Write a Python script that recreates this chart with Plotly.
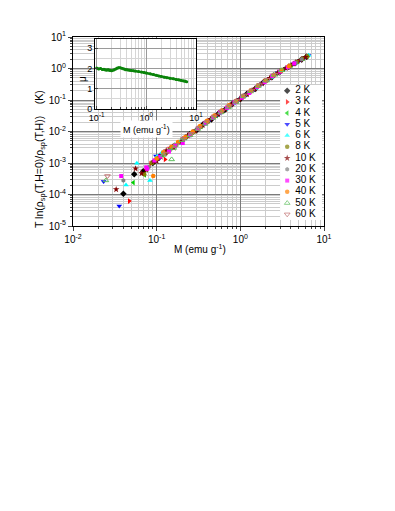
import plotly.graph_objects as go

# ---- data ---------------------------------------------------------------
temps = ["2 K", "3 K", "4 K", "5 K", "6 K", "8 K", "10 K", "20 K", "30 K", "40 K", "50 K", "60 K"]

m_2k = [0.040, 0.054, 0.069, 0.09, 0.11, 0.13, 0.16, 0.2, 0.25, 0.3, 0.36, 0.45, 0.55, 0.65, 0.8, 1.0, 1.2, 1.5, 1.9, 2.4, 3.0, 3.8, 4.6, 5.4, 6.2]
y_2k = [1.05e-4, 4.4e-4, 5.5e-4, 1.0e-3, 1.7e-3, 2.1e-3, 3.4e-3, 5.0e-3, 8.4e-3, 1.1e-2, 1.7e-2, 2.4e-2, 3.7e-2, 4.8e-2, 7.4e-2, 0.108, 0.157, 0.225, 0.37, 0.54, 0.80, 1.13, 1.52, 1.93, 2.38]

m_3k = [0.047, 0.126, 0.085, 0.105, 0.14, 0.17, 0.21, 0.26, 0.32, 0.39, 0.47, 0.57, 0.68, 0.83, 1.02, 1.25, 1.55, 1.95, 2.45, 3.1, 3.9, 4.7, 5.5, 6.3]
y_3k = [6.2e-5, 1.3e-3, 9.5e-4, 1.5e-3, 2.7e-3, 3.6e-3, 5.8e-3, 8.3e-3, 1.3e-2, 1.95e-2, 2.8e-2, 3.9e-2, 5.5e-2, 7.6e-2, 0.114, 0.165, 0.24, 0.375, 0.56, 0.84, 1.18, 1.56, 1.97, 2.42]

m_4k = [0.0527, 0.072, 0.095, 0.118, 0.145, 0.175, 0.22, 0.27, 0.34, 0.42, 0.52, 0.62, 0.75, 0.92, 1.12, 1.38, 1.72, 2.15, 2.7, 3.3, 4.1, 4.9, 5.7, 6.4]
y_4k = [2.4e-4, 4.2e-4, 1.2e-3, 1.8e-3, 2.8e-3, 4.0e-3, 6.4e-3, 9.5e-3, 1.45e-2, 2.2e-2, 3.2e-2, 4.5e-2, 6.5e-2, 9.5e-2, 0.137, 0.2, 0.3, 0.44, 0.68, 0.95, 1.3, 1.7, 2.13, 2.5]

m_5k = [0.0232, 0.0357, 0.098, 0.108, 0.124, 0.15, 0.19, 0.23, 0.29, 0.35, 0.43, 0.53, 0.64, 0.78, 0.96, 1.17, 1.45, 1.8, 2.25, 2.8, 3.5, 4.3, 5.1, 5.9, 6.5]
y_5k = [2.6e-4, 4.3e-5, 1.66e-3, 1.4e-3, 2.1e-3, 3.1e-3, 4.5e-3, 6.6e-3, 1.05e-2, 1.5e-2, 2.3e-2, 3.4e-2, 4.8e-2, 7.0e-2, 0.104, 0.146, 0.215, 0.325, 0.49, 0.73, 1.01, 1.39, 1.79, 2.22, 2.57]

m_6k = [0.043, 0.058, 0.083, 0.101, 0.115, 0.135, 0.165, 0.2, 0.24, 0.3, 0.37, 0.46, 0.56, 0.67, 0.82, 1.0, 1.22, 1.52, 1.88, 2.35, 2.95, 3.7, 4.5, 5.3, 6.1, 6.55]
y_6k = [2.0e-4, 9.8e-4, 2.8e-4, 1.6e-3, 2.1e-3, 2.3e-3, 3.9e-3, 5.5e-3, 7.2e-3, 1.2e-2, 1.7e-2, 2.6e-2, 3.8e-2, 5.1e-2, 7.5e-2, 0.115, 0.16, 0.23, 0.35, 0.52, 0.79, 1.11, 1.48, 1.9, 2.35, 2.62]

m_8k = [0.071, 0.088, 0.105, 0.125, 0.155, 0.185, 0.225, 0.28, 0.34, 0.41, 0.5, 0.61, 0.74, 0.9, 1.1, 1.35, 1.65, 2.05, 2.55, 3.2, 4.0, 4.8, 5.6, 6.3]
y_8k = [4.4e-4, 1.0e-3, 1.45e-3, 2.0e-3, 3.1e-3, 4.6e-3, 6.6e-3, 9.8e-3, 1.45e-2, 2.05e-2, 3.1e-2, 4.3e-2, 6.2e-2, 8.8e-2, 0.13, 0.19, 0.28, 0.41, 0.62, 0.9, 1.25, 1.64, 2.06, 2.44]

m_10k = [0.0328, 0.056, 0.066, 0.075, 0.092, 0.10, 0.112, 0.13, 0.16, 0.195, 0.235, 0.29, 0.355, 0.44, 0.54, 0.66, 0.8, 0.98, 1.2, 1.48, 1.82, 2.25, 2.8, 3.5, 4.3, 5.2, 6.0]
y_10k = [1.45e-4, 6.6e-4, 4.7e-4, 6.0e-4, 1.1e-3, 1.15e-3, 1.55e-3, 2.5e-3, 3.0e-3, 4.9e-3, 7.4e-3, 1.05e-2, 1.6e-2, 2.5e-2, 3.5e-2, 5.0e-2, 7.5e-2, 0.105, 0.15, 0.225, 0.33, 0.5, 0.73, 1.02, 1.4, 1.86, 2.3]

m_20k = [0.040, 0.081, 0.097, 0.12, 0.142, 0.17, 0.21, 0.26, 0.32, 0.39, 0.48, 0.58, 0.71, 0.87, 1.06, 1.3, 1.6, 1.98, 2.45, 3.05, 3.8, 4.6, 5.4]
y_20k = [2.8e-4, 7.5e-4, 1.25e-3, 2.0e-3, 2.5e-3, 3.6e-3, 5.7e-3, 8.8e-3, 1.3e-2, 1.9e-2, 2.9e-2, 4.2e-2, 5.9e-2, 8.5e-2, 0.122, 0.178, 0.26, 0.39, 0.56, 0.82, 1.14, 1.53, 1.95]

m_30k = [0.0377, 0.075, 0.077, 0.094, 0.11, 0.14, 0.165, 0.205, 0.25, 0.31, 0.38, 0.47, 0.57, 0.69, 0.85, 1.04, 1.28, 1.58, 1.95, 2.4, 3.0, 3.7, 4.4]
y_30k = [3.85e-4, 7.3e-4, 6.5e-4, 1.2e-3, 1.6e-3, 2.3e-3, 3.5e-3, 4.3e-3, 7.6e-3, 1.2e-2, 1.8e-2, 2.7e-2, 4.0e-2, 5.6e-2, 8.3e-2, 0.117, 0.168, 0.26, 0.37, 0.58, 0.8, 1.1, 1.45]

m_40k = [0.091, 0.10, 0.12, 0.15, 0.18, 0.22, 0.27, 0.33, 0.4, 0.49, 0.6, 0.73, 0.89, 1.08, 1.33, 1.63, 2.0, 2.5, 3.1, 3.8]
y_40k = [3.85e-4, 1.4e-3, 2.2e-3, 3.3e-3, 4.6e-3, 6.7e-3, 1.0e-2, 1.5e-2, 2.2e-2, 3.2e-2, 4.6e-2, 6.8e-2, 0.095, 0.135, 0.2, 0.29, 0.42, 0.62, 0.87, 1.18]

m_50k = [0.0247, 0.151, 0.12, 0.16, 0.2, 0.25, 0.31, 0.38, 0.47, 0.58, 0.72, 0.88, 1.08, 1.32, 1.62, 2.0, 2.5, 3.1]
y_50k = [2.8e-4, 1.3e-3, 1.8e-3, 3.0e-3, 5.3e-3, 7.6e-3, 1.2e-2, 1.75e-2, 2.7e-2, 4.0e-2, 6.0e-2, 8.7e-2, 0.13, 0.19, 0.28, 0.41, 0.63, 0.88]

m_60k = [0.0258, 0.13, 0.17, 0.21, 0.26, 0.32, 0.4, 0.49, 0.6, 0.74, 0.91, 1.12, 1.38, 1.7, 2.1, 2.6]
y_60k = [3.85e-4, 2.0e-3, 3.8e-3, 5.9e-3, 8.5e-3, 1.3e-2, 2.0e-2, 3.0e-2, 4.4e-2, 6.4e-2, 9.4e-2, 0.14, 0.2, 0.3, 0.44, 0.64]

# inset: exponent mu vs M
m_inset = [0.10, 0.11, 0.12, 0.13, 0.14, 0.15, 0.16, 0.17, 0.18, 0.19, 0.20, 0.22, 0.24, 0.26, 0.28, 0.30,
           0.32, 0.35, 0.38, 0.42, 0.46, 0.50, 0.55, 0.60, 0.70, 0.80, 0.90, 1.0, 1.2, 1.4, 1.6, 1.8,
           2.0, 2.3, 2.6, 3.0, 3.5, 4.0, 4.5, 5.0, 5.5, 6.0, 6.5]
mu_inset = [2.02, 1.98, 2.00, 1.95, 1.96, 1.93, 1.92, 1.94, 1.91, 1.90, 1.89, 1.92, 1.97, 2.02, 2.04, 2.03,
            2.01, 1.97, 1.94, 1.92, 1.91, 1.90, 1.89, 1.88, 1.85, 1.82, 1.80, 1.78, 1.74, 1.70, 1.66, 1.63,
            1.61, 1.57, 1.54, 1.52, 1.49, 1.46, 1.44, 1.42, 1.40, 1.38, 1.34]

series_m = [m_2k, m_3k, m_4k, m_5k, m_6k, m_8k, m_10k, m_20k, m_30k, m_40k, m_50k, m_60k]
series_y = [y_2k, y_3k, y_4k, y_5k, y_6k, y_8k, y_10k, y_20k, y_30k, y_40k, y_50k, y_60k]

# ---- styles --------------------------------------------------------------
colors = ["#000000", "#FF0000", "#00D000", "#0000FF", "#00FFFF", "#808000",
          "#800000", "#808080", "#FF00FF", "#FF8000", "#5FBF5F", "#C07070"]
symbols = ["diamond", "triangle-right", "triangle-left", "triangle-down", "triangle-up", "circle",
           "star", "hexagon", "square", "circle", "triangle-up-open", "triangle-down-open"]
sizes = [5, 5, 5, 5, 5, 4.5, 5, 4.5, 4, 4.5, 5, 5]

FONT = "Liberation Sans, Arial, sans-serif"


def sup_label(e):
    return "10<sup>%d</sup>" % e


fig = go.Figure()

for m, y, name, col, sym, sz in zip(series_m, series_y, temps, colors, symbols, sizes):
    fig.add_trace(go.Scatter(
        x=m, y=y, mode="markers", name=name, xaxis="x", yaxis="y",
        marker=dict(color=col, symbol=sym, size=sz,
                    line=dict(width=1 if sym.endswith("open") else 0, color=col)),
        showlegend=False,
    ))

# inset curve
fig.add_trace(go.Scatter(
    x=m_inset, y=mu_inset, mode="lines+markers", xaxis="x2", yaxis="y2",
    line=dict(color="#0A840A", width=2.5), marker=dict(color="#0A840A", size=3),
    showlegend=False,
))

# hand-made legend (plotly's own legend rows are too tall for this spacing)
rows = list(range(len(temps)))
fig.add_trace(go.Scatter(
    x=[0.17] * len(temps), y=rows, mode="markers", xaxis="x3", yaxis="y3",
    marker=dict(color=colors, symbol=symbols, size=sizes,
                line=dict(width=[1 if s.endswith("open") else 0 for s in symbols], color=colors)),
    showlegend=False, hoverinfo="skip",
))
fig.add_trace(go.Scatter(
    x=[0.36] * len(temps), y=rows, mode="text", text=temps, textposition="middle right",
    textfont=dict(family=FONT, size=10, color="black"), xaxis="x3", yaxis="y3",
    showlegend=False, hoverinfo="skip",
))

major_x = [-2, -1, 0, 1]
major_y = [-5, -4, -3, -2, -1, 0, 1]
minor_x = [k * 10.0 ** e for e in range(-2, 1) for k in range(2, 10)]
minor_y = [k * 10.0 ** e for e in range(-5, 1) for k in range(2, 10)]

axis_common = dict(showline=True, linecolor="black", linewidth=1, mirror=True, zeroline=False,
                   automargin=False, tickfont=dict(family=FONT, size=10, color="black"))
inset_font = dict(family=FONT, size=9, color="black")

# the page body adds an 8 px offset, so the figure is 8 px smaller and margins shifted
fig.update_layout(
    width=387, height=503,
    margin=dict(l=65, r=71, t=29, b=285),
    paper_bgcolor="white", plot_bgcolor="white",
    font=dict(family=FONT, size=10, color="black"),
    showlegend=False,
    xaxis=dict(type="log", range=[-2, 1], domain=[0, 1], anchor="y",
               tickvals=[10.0 ** e for e in major_x], ticktext=[sup_label(e) for e in major_x],
               ticks="outside", ticklen=4, showgrid=True, gridcolor="#7a7a7a", gridwidth=1,
               minor=dict(tickmode="array", tickvals=minor_x, ticks="outside", ticklen=2,
                          showgrid=True, gridcolor="#cccccc", gridwidth=1),
               **axis_common),
    yaxis=dict(type="log", range=[-5, 1], domain=[0, 1], anchor="x",
               tickvals=[10.0 ** e for e in major_y], ticktext=[sup_label(e) for e in major_y],
               ticks="outside", ticklen=4, showgrid=True, gridcolor="#7a7a7a", gridwidth=1,
               minor=dict(tickmode="array", tickvals=minor_y, ticks="outside", ticklen=2,
                          showgrid=True, gridcolor="#cccccc", gridwidth=1),
               **axis_common),
    xaxis2=dict(type="log", range=[-1.034, 1.0], domain=[0.0876, 0.490], anchor="y2",
                tickvals=[0.1, 1, 10], ticktext=[sup_label(e) for e in [-1, 0, 1]],
                ticks="inside", ticklen=3, showgrid=True, gridcolor="#9a9a9a",
                minor=dict(tickmode="array", tickvals=minor_x, ticks="inside", ticklen=2,
                           showgrid=True, gridcolor="#d6d6d6"),
                **{**axis_common, "tickfont": inset_font}),
    yaxis2=dict(range=[0, 3.45], domain=[0.619, 0.989], anchor="x2",
                tickvals=[0, 1, 2, 3], ticks="inside", ticklen=3,
                showgrid=True, gridcolor="#9a9a9a",
                minor=dict(dtick=0.5, showgrid=True, gridcolor="#d6d6d6"),
                **{**axis_common, "tickfont": inset_font}),
    xaxis3=dict(range=[0, 1], domain=[0.825, 0.992], anchor="y3", visible=False, fixedrange=True),
    yaxis3=dict(range=[11.5, -0.5], domain=[0.032, 0.746], anchor="x3", visible=False, fixedrange=True),
    annotations=[
        dict(text="T ln(ρ<sub>sp</sub>(T,H=0)/ρ<sub>sp</sub>(T,H))    (K)", textangle=-90,
             xref="paper", yref="paper", x=-0.131, y=0.355, xanchor="center", yanchor="middle",
             showarrow=False, font=dict(family=FONT, size=10.5)),
        dict(text="M (emu g<sup>-1</sup>)", xref="paper", yref="paper", x=0.505, y=-0.122,
             xanchor="center", yanchor="middle", showarrow=False, font=dict(family=FONT, size=10)),
        dict(text="M (emu g<sup>-1</sup>)", xref="paper", yref="paper", x=0.291, y=0.511,
             xanchor="center", yanchor="middle", showarrow=False, bgcolor="white", borderpad=2,
             font=inset_font),
        dict(text="μ", textangle=-90, xref="paper", yref="paper", x=0.04, y=0.778,
             xanchor="center", yanchor="middle", showarrow=False, font=dict(family=FONT, size=10)),
    ],
)

fig.write_html("out.html")
